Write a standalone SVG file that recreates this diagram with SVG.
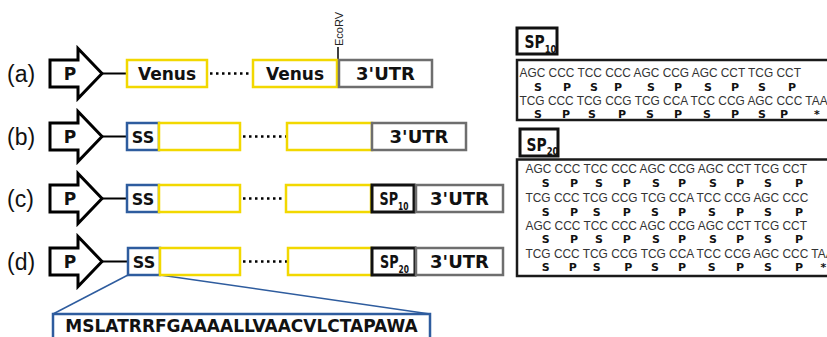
<svg xmlns="http://www.w3.org/2000/svg" xmlns:xlink="http://www.w3.org/1999/xlink" width="827" height="337" viewBox="0 0 827 337">
  <style>
    .prom { fill: #fff; stroke: #000; stroke-width: 3; stroke-linejoin: miter; }
    .ven { fill: #fff; stroke: #f2d800; stroke-width: 2.5; }
    .ss { fill: #fff; stroke: #2e5c9e; stroke-width: 2.5; }
    .utr { fill: #fff; stroke: #6e6e6e; stroke-width: 2.5; }
    .sp { fill: #fff; stroke: #111; stroke-width: 3; }
    .seq { fill: #fff; stroke: #1a1a1a; stroke-width: 2.5; }
    .blk { font-family: "DejaVu Sans", Verdana, sans-serif; font-weight: bold; fill: #111; text-anchor: middle; }
    .spl { font-family: "DejaVu Sans", Verdana, sans-serif; font-weight: bold; fill: #111; }
    .tag { font-family: "Liberation Sans", Arial, sans-serif; font-size: 23px; fill: #111; }
    .codon { font-family: "Liberation Sans", Arial, sans-serif; font-size: 11.9px; fill: #333; }
    .aa { font-family: "DejaVu Sans", Verdana, sans-serif; font-weight: bold; font-size: 11px; fill: #111; text-anchor: middle; }
    .link { stroke: #000; stroke-width: 2; fill: none; }
    .dots { stroke: #000; stroke-width: 2.5; stroke-dasharray: 2.5 3.5; fill: none; }
    .zoom { stroke: #2e5c9e; stroke-width: 1.5; fill: none; }
  </style>
  <defs>
    <path id="promoter" class="prom" d="M50,-13.5 H78 V-25 L102,0 L78,25 V13.5 H50 Z"/>
  </defs>

  <!-- row labels -->
  <g id="row-labels">
    <text class="tag" x="7" y="82">(a)</text>
    <text class="tag" x="7" y="145">(b)</text>
    <text class="tag" x="7" y="207">(c)</text>
    <text class="tag" x="7" y="270">(d)</text>
  </g>

  <!-- connectors: promoter links, dotted repeats, zoom guides -->
  <g id="connectors">
    <line class="link" x1="102" y1="73.5" x2="127" y2="73.5"/>
    <line class="link" x1="102" y1="136.5" x2="127" y2="136.5"/>
    <line class="link" x1="102" y1="198.5" x2="127" y2="198.5"/>
    <line class="link" x1="102" y1="261.5" x2="128" y2="261.5"/>
    <line class="dots" x1="210" y1="73.5" x2="253" y2="73.5"/>
    <line class="dots" x1="243" y1="136.5" x2="286" y2="136.5"/>
    <line class="dots" x1="243" y1="198.5" x2="286" y2="198.5"/>
    <line class="dots" x1="243" y1="261.5" x2="287" y2="261.5"/>
    <line x1="338" y1="47" x2="338" y2="60" stroke="#000" stroke-width="1.5"/>
    <line class="zoom" x1="128" y1="275" x2="53" y2="314"/>
    <line class="zoom" x1="160" y1="275" x2="430" y2="314"/>
  </g>

  <!-- (a) -->
  <g id="a-promoter"><use xlink:href="#promoter" transform="translate(0,73.5)"/><text class="blk" x="70" y="80" font-size="17">P</text></g>
  <g id="a-venus1"><rect class="ven" x="127" y="60" width="80" height="27"/><text class="blk" x="167" y="80" font-size="17">Venus</text></g>
  <g id="a-venus2"><rect class="ven" x="253" y="60" width="84" height="27"/><text class="blk" x="295" y="80" font-size="17">Venus</text></g>
  <g id="a-utr"><rect class="utr" x="339" y="60" width="93" height="27"/><text class="blk" x="385.5" y="80" font-size="18">3'UTR</text></g>
  <g id="a-ecorv"><text transform="translate(343,46) rotate(-90)" font-family="Liberation Sans, Arial, sans-serif" font-size="11" fill="#222">EcoRV</text></g>

  <!-- (b) -->
  <g id="b-promoter"><use xlink:href="#promoter" transform="translate(0,136.5)"/><text class="blk" x="70" y="143" font-size="17">P</text></g>
  <g id="b-ss"><rect class="ss" x="127" y="123" width="32" height="27"/><text class="blk" x="143" y="142.5" font-size="16">SS</text></g>
  <g id="b-ven1"><rect class="ven" x="159" y="123" width="81" height="27"/></g>
  <g id="b-ven2"><rect class="ven" x="287" y="123" width="85" height="27"/></g>
  <g id="b-utr"><rect class="utr" x="372" y="123" width="94" height="27"/><text class="blk" x="419" y="143" font-size="18">3'UTR</text></g>

  <!-- (c) -->
  <g id="c-promoter"><use xlink:href="#promoter" transform="translate(0,198.5)"/><text class="blk" x="70" y="205" font-size="17">P</text></g>
  <g id="c-ss"><rect class="ss" x="127" y="185" width="32" height="27"/><text class="blk" x="143" y="204.5" font-size="16">SS</text></g>
  <g id="c-ven1"><rect class="ven" x="159" y="185" width="81" height="27"/></g>
  <g id="c-ven2"><rect class="ven" x="286" y="185" width="85" height="27"/></g>
  <g id="c-sp10"><rect class="sp" x="372" y="185" width="42" height="27"/><text class="spl" transform="translate(379.5,205) scale(0.75,1)" font-size="17">SP<tspan font-size="10" dy="5">10</tspan></text></g>
  <g id="c-utr"><rect class="utr" x="416" y="185" width="87" height="27"/><text class="blk" x="459.5" y="205" font-size="18">3'UTR</text></g>

  <!-- (d) -->
  <g id="d-promoter"><use xlink:href="#promoter" transform="translate(0,261.5)"/><text class="blk" x="70" y="268" font-size="17">P</text></g>
  <g id="d-ss"><rect class="ss" x="128" y="248" width="32" height="27"/><text class="blk" x="144" y="267.5" font-size="16">SS</text></g>
  <g id="d-ven1"><rect class="ven" x="160" y="248" width="80" height="27"/></g>
  <g id="d-ven2"><rect class="ven" x="288" y="248" width="84" height="27"/></g>
  <g id="d-sp20"><rect class="sp" x="372" y="248" width="43" height="27"/><text class="spl" transform="translate(380,268) scale(0.75,1)" font-size="17">SP<tspan font-size="10" dy="5">20</tspan></text></g>
  <g id="d-utr"><rect class="utr" x="416" y="248" width="87" height="27"/><text class="blk" x="459.5" y="268" font-size="18">3'UTR</text></g>

  <!-- signal sequence peptide -->
  <g id="ss-peptide">
    <rect class="ss" x="53" y="314" width="377" height="32"/>
    <text class="blk" x="241.5" y="332" font-size="17">MSLATRRFGAAAALLVAACVLCTAPAWA</text>
  </g>

  <!-- SP10 repeat -->
  <g id="sp10-label">
    <rect class="sp" x="517" y="28" width="40" height="26" stroke-width="2.5"/>
    <text class="spl" transform="translate(524.5,48) scale(0.77,1)" font-size="18">SP<tspan font-size="11" dy="5">10</tspan></text>
  </g>
  <g id="sp10-sequence">
    <rect class="seq" x="517" y="60" width="330" height="60"/>
    <text class="codon" x="519.5" y="76.7">AGC CCC TCC CCC AGC CCG AGC CCT TCG CCT</text>
    <text class="aa" x="538 567 594 618 651 678 708 735 762 792" y="90.5">SPSPSPSPSP</text>
    <text class="codon" x="519.5" y="105.3">TCG CCC TCG CCG TCG CCA TCC CCG AGC CCC TAA</text>
    <text class="aa" x="538 566 592 622 650 678 707 735 762 784 817" y="117.8">SPSPSPSPSP*</text>
  </g>

  <!-- SP20 repeat -->
  <g id="sp20-label">
    <rect class="sp" x="520" y="129" width="38" height="27" stroke-width="2.5"/>
    <text class="spl" transform="translate(526.5,151) scale(0.77,1)" font-size="18">SP<tspan font-size="11" dy="4">20</tspan></text>
  </g>
  <g id="sp20-sequence">
    <rect class="seq" x="517" y="159.5" width="330" height="116.5"/>
    <text class="codon" x="525.5" y="172.7">AGC CCC TCC CCC AGC CCG AGC CCT TCG CCT</text>
    <text class="aa" x="545.7 574 599 626.7 656 682 713 740 768 799" y="186.5">SPSPSPSPSP</text>
    <text class="codon" x="525.5" y="201.7">TCG CCC TCG CCG TCG CCA TCC CCG AGC CCC</text>
    <text class="aa" x="545.7 574 596.7 626.7 655 682 712 740 768 799" y="215.5">SPSPSPSPSP</text>
    <text class="codon" x="525.5" y="230">AGC CCC TCC CCC AGC CCG AGC CCT TCG CCT</text>
    <text class="aa" x="545.7 574 599 626.7 656 682 713 740 768 799" y="243.3">SPSPSPSPSP</text>
    <text class="codon" x="525.5" y="257.7">TCG CCC TCG CCG TCG CCA TCC CCG AGC CCC TAA</text>
    <text class="aa" x="545.7 572.7 596.7 628.3 655 682 711.7 740 768 799 823.3" y="271">SPSPSPSPSP*</text>
  </g>
</svg>
